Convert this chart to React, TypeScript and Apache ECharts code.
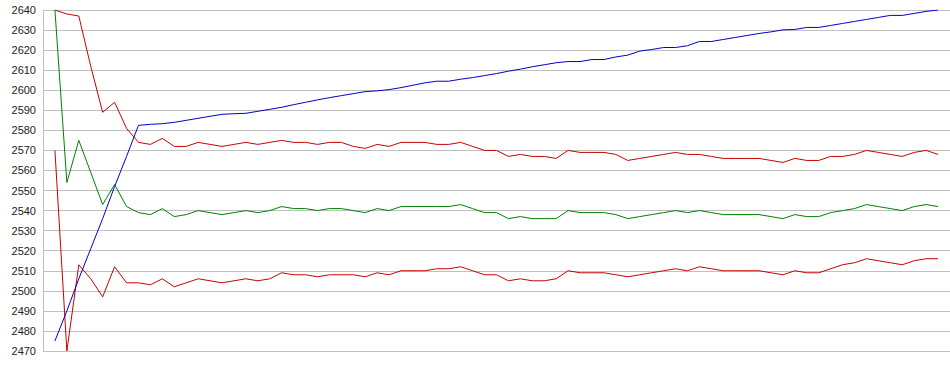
import React, { useEffect, useRef } from "react";
import * as echarts from "echarts";

const yTicks = { min: 2470, max: 2640, interval: 10 };

const upperBand = [
  2640, 2638, 2637, 2612, 2589, 2594, 2581, 2574, 2573, 2576,
  2572, 2572, 2574, 2573, 2572, 2573, 2574, 2573, 2574, 2575,
  2574, 2574, 2573, 2574, 2574, 2572, 2571, 2573, 2572, 2574,
  2574, 2574, 2573, 2573, 2574, 2572, 2570, 2570, 2567, 2568,
  2567, 2567, 2566, 2570, 2569, 2569, 2569, 2568, 2565, 2566,
  2567, 2568, 2569, 2568, 2568, 2567, 2566, 2566, 2566, 2566,
  2565, 2564, 2566, 2565, 2565, 2567, 2567, 2568, 2570, 2569,
  2568, 2567, 2569, 2570, 2568,
];

const middleLine = [
  2640, 2554, 2575, 2559, 2543, 2553, 2542, 2539, 2538, 2541,
  2537, 2538, 2540, 2539, 2538, 2539, 2540, 2539, 2540, 2542,
  2541, 2541, 2540, 2541, 2541, 2540, 2539, 2541, 2540, 2542,
  2542, 2542, 2542, 2542, 2543, 2541, 2539, 2539, 2536, 2537,
  2536, 2536, 2536, 2540, 2539, 2539, 2539, 2538, 2536, 2537,
  2538, 2539, 2540, 2539, 2540, 2539, 2538, 2538, 2538, 2538,
  2537, 2536, 2538, 2537, 2537, 2539, 2540, 2541, 2543, 2542,
  2541, 2540, 2542, 2543, 2542,
];

const lowerBand = [
  2570, 2470, 2513, 2506, 2497, 2512, 2504, 2504, 2503, 2506,
  2502, 2504, 2506, 2505, 2504, 2505, 2506, 2505, 2506, 2509,
  2508, 2508, 2507, 2508, 2508, 2508, 2507, 2509, 2508, 2510,
  2510, 2510, 2511, 2511, 2512, 2510, 2508, 2508, 2505, 2506,
  2505, 2505, 2506, 2510, 2509, 2509, 2509, 2508, 2507, 2508,
  2509, 2510, 2511, 2510, 2512, 2511, 2510, 2510, 2510, 2510,
  2509, 2508, 2510, 2509, 2509, 2511, 2513, 2514, 2516, 2515,
  2514, 2513, 2515, 2516, 2516,
];

const trendLine = [
  2475, 2490, 2506, 2521, 2536, 2552, 2567, 2582.5, 2583, 2583.3,
  2584, 2585, 2586, 2587, 2588, 2588.3, 2588.5, 2589.5, 2590.5, 2591.5,
  2592.8, 2594, 2595.2, 2596.3, 2597.3, 2598.3, 2599.3, 2599.7, 2600.3, 2601.3,
  2602.5, 2603.7, 2604.5, 2604.5, 2605.5, 2606.3, 2607.3, 2608.3, 2609.5, 2610.5,
  2611.7, 2612.7, 2613.7, 2614.3, 2614.3, 2615.3, 2615.3, 2616.6, 2617.5, 2619.5,
  2620.3, 2621.3, 2621.3, 2622.2, 2624.3, 2624.3, 2625.3, 2626.3, 2627.3, 2628.3,
  2629.1, 2630.1, 2630.3, 2631.3, 2631.3, 2632.3, 2633.3, 2634.3, 2635.3, 2636.3,
  2637.3, 2637.3, 2638.3, 2639.3, 2640,
];

const toPairs = (arr: number[]) => arr.map((v, i) => [i + 1, v]);

export default function App() {
  const ref = useRef<HTMLDivElement>(null);
  useEffect(() => {
    document.body.style.margin = "0";
    const chart = echarts.init(ref.current!, null, { renderer: "svg" });
    const lineSeries = (name: string, data: number[], color: string) => ({
      name,
      type: "line",
      data: toPairs(data),
      symbol: "none",
      showSymbol: false,
      lineStyle: { color, width: 1 },
      itemStyle: { color },
      silent: true,
    });
    chart.setOption({
      animation: false,
      backgroundColor: "#ffffff",
      grid: { left: 43, right: 0, top: 10, bottom: 24, containLabel: false },
      xAxis: {
        type: "value",
        min: 0,
        max: 76,
        axisLine: { show: true, lineStyle: { color: "#c0c0c0", width: 1 } },
        axisTick: { show: false },
        axisLabel: { show: false },
        splitLine: { show: false },
      },
      yAxis: {
        type: "value",
        min: yTicks.min,
        max: yTicks.max,
        interval: yTicks.interval,
        axisLine: { show: true, lineStyle: { color: "#c0c0c0", width: 1 } },
        axisTick: { show: false },
        axisLabel: {
          color: "#222",
          fontFamily: "Liberation Sans, Arial, sans-serif",
          fontSize: 11,
          margin: 7,
          formatter: (v: number) => String(v),
        },
        splitLine: { show: true, lineStyle: { color: "#c0c0c0", width: 1 } },
      },
      series: [
        lineSeries("Upper", upperBand, "#c80000"),
        lineSeries("Middle", middleLine, "#008000"),
        lineSeries("Lower", lowerBand, "#c80000"),
        lineSeries("Trend", trendLine, "#0000c8"),
      ],
    });
    return () => chart.dispose();
  }, []);
  return (
    <div
      ref={ref}
      style={{ position: "fixed", left: 0, top: 0, width: 950, height: 375 }}
    />
  );
}
